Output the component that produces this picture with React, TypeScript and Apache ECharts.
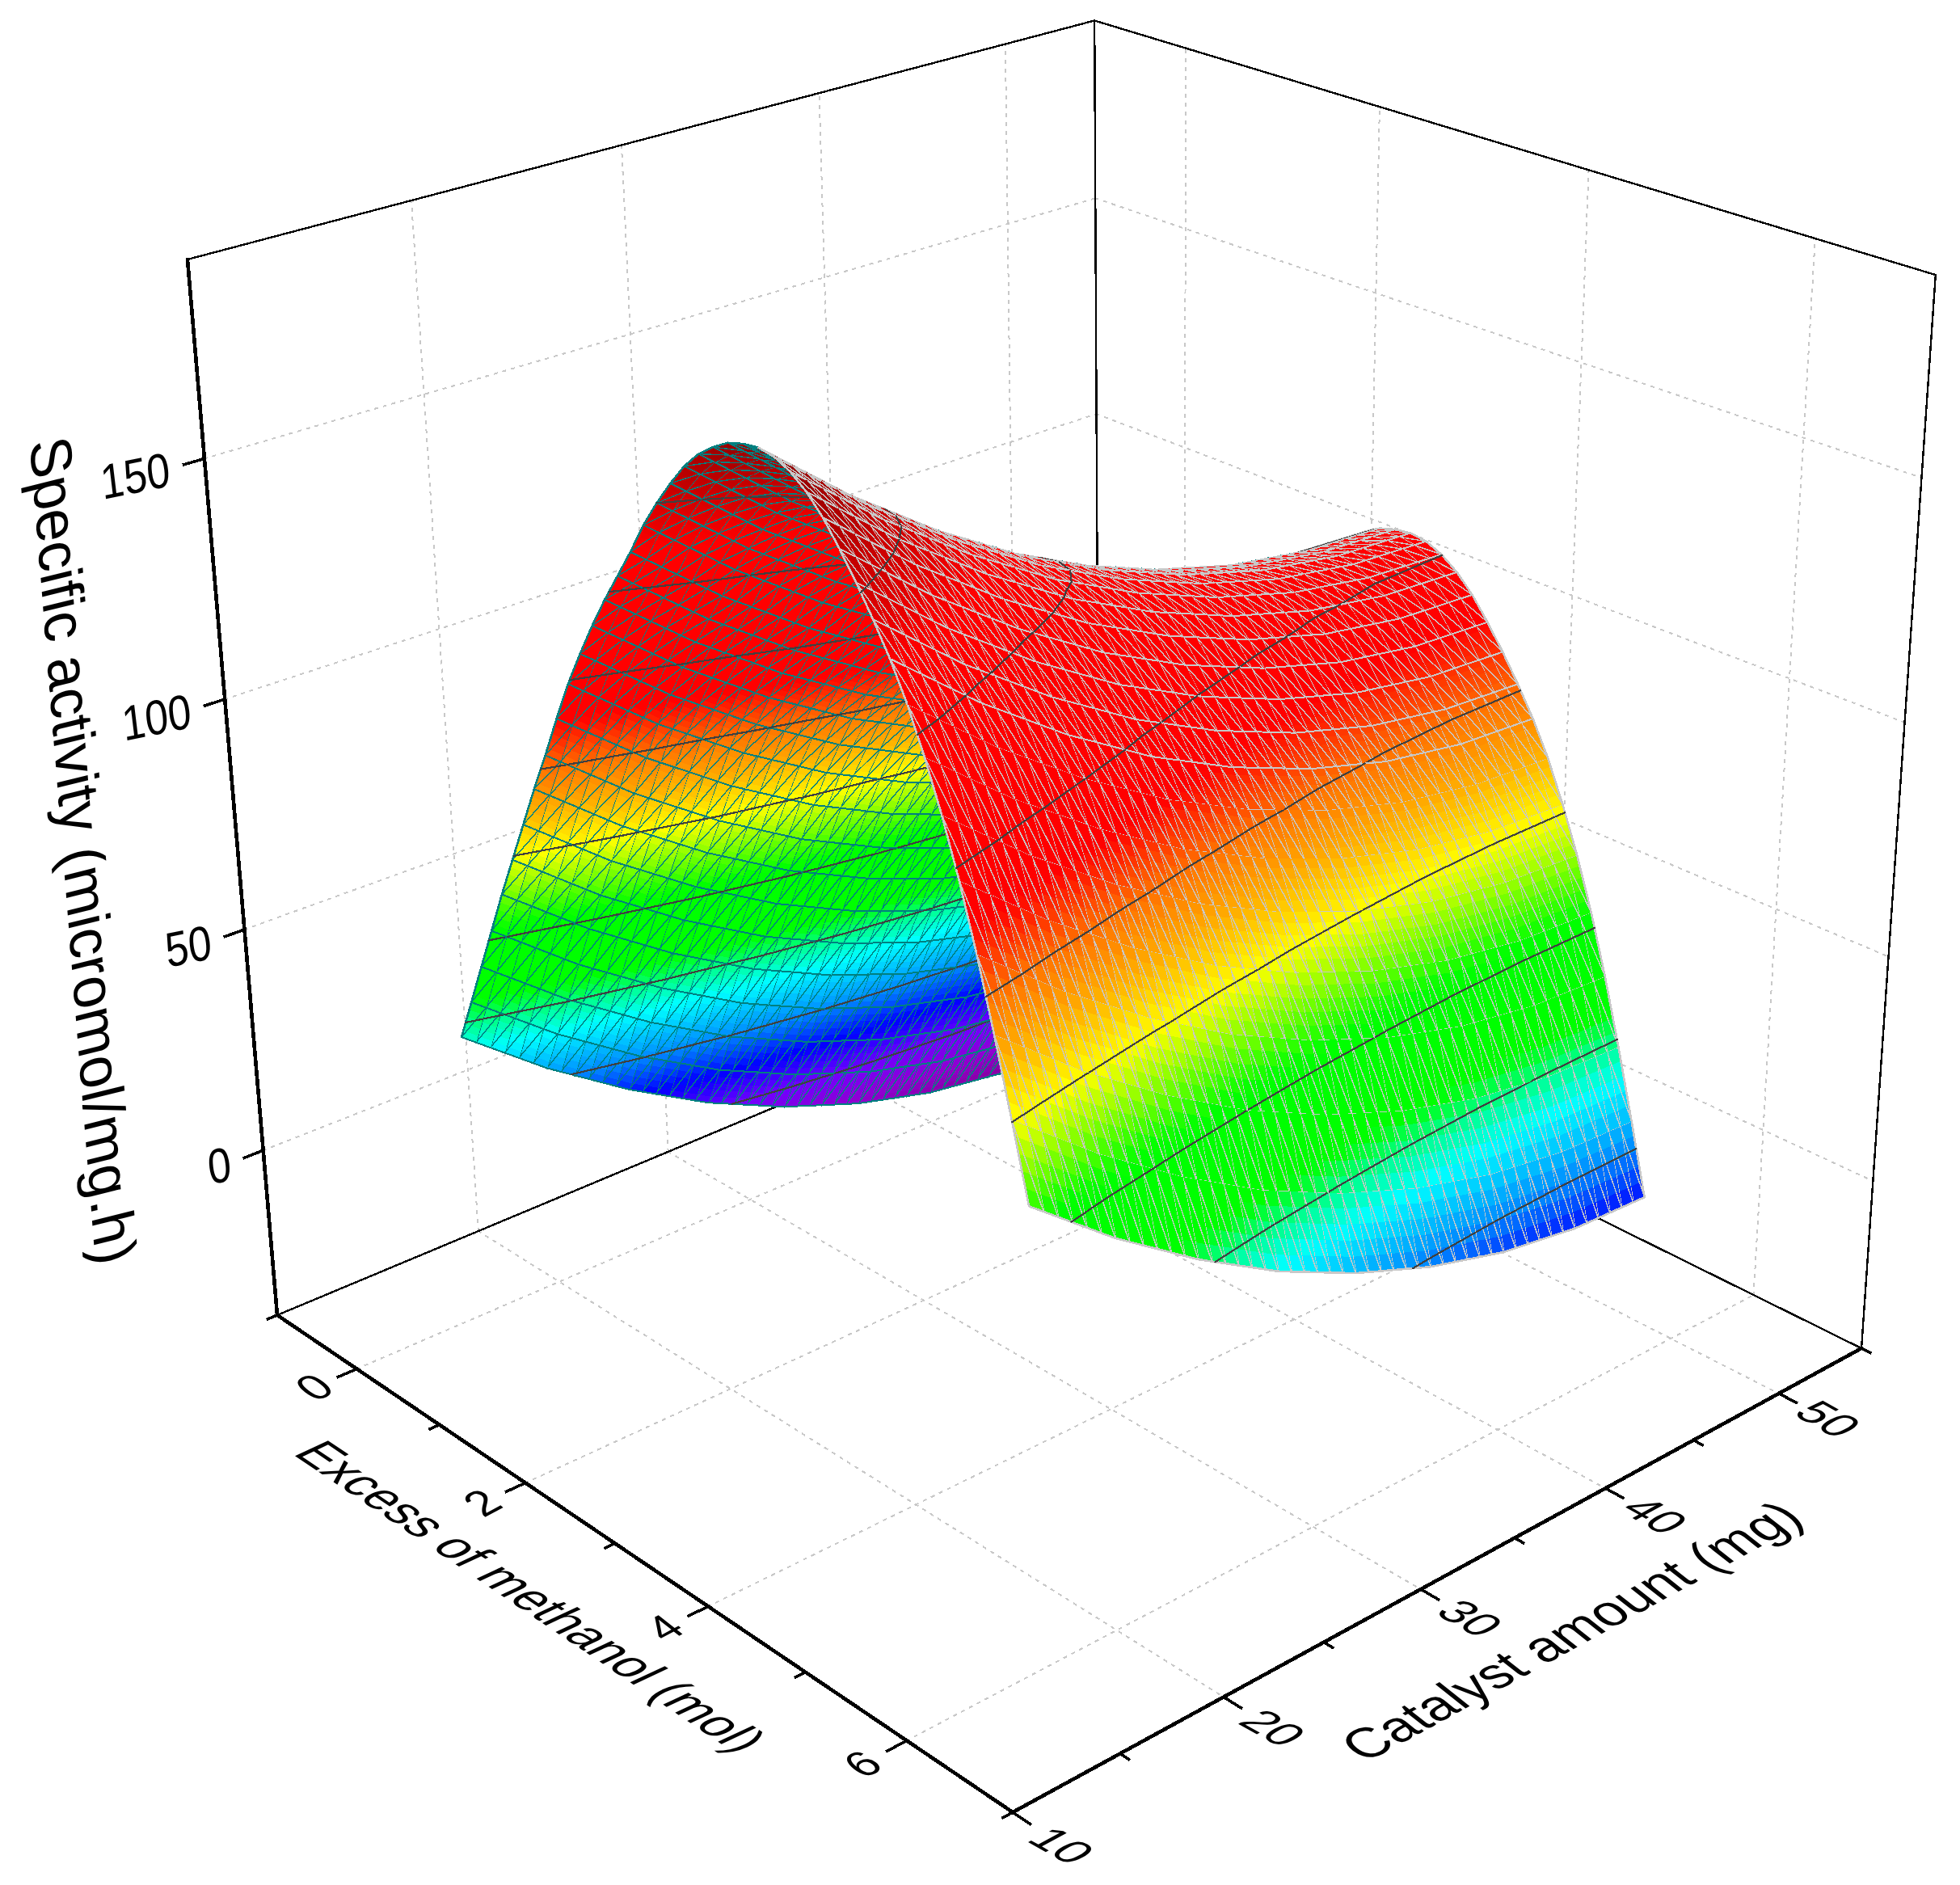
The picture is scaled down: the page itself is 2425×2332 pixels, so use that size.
import React, { useEffect, useRef } from "react";
import * as echarts from "echarts";

const WIDTH = 2425;
const HEIGHT = 2332;

// ---------- data ----------
const methanolValues = [0, 0.15, 0.3, 0.45, 0.6, 0.75, 0.9, 1.05, 1.2, 1.35, 1.5, 1.65, 1.8, 1.95, 2.1, 2.25, 2.4, 2.55, 2.7, 2.85, 3, 3.15, 3.3, 3.45, 3.6, 3.75, 3.9, 4.05, 4.2, 4.35, 4.5, 4.65, 4.8, 4.95, 5.1, 5.25, 5.4, 5.55, 5.7, 5.85, 6];
const catalystValues = [16, 20, 24, 28, 32, 36, 40, 44, 48];
// one row per methanol value, one column per catalyst value
const activityRows = [
  [26, 11.6, -0.8, -11.4, -19.9, -26.6, -31.4, -34.1, -34.9],
  [35.5, 21.1, 8.7, -1.9, -10.4, -17.1, -21.9, -24.6, -25.4],
  [45, 30.6, 18.2, 7.6, -0.9, -7.6, -12.4, -15.1, -15.9],
  [54.5, 40.1, 27.7, 17.1, 8.6, 1.9, -2.9, -5.6, -6.4],
  [64, 49.6, 37.2, 26.6, 18.1, 11.4, 6.6, 3.9, 3.1],
  [73, 58.6, 46.2, 35.6, 27.1, 20.4, 15.6, 12.9, 12.1],
  [82, 67.6, 55.2, 44.6, 36.1, 29.4, 24.6, 21.9, 21.1],
  [91, 76.6, 64.2, 53.6, 45.1, 38.4, 33.6, 30.9, 30.1],
  [99.5, 85.1, 72.7, 62.1, 53.6, 46.9, 42.1, 39.4, 38.6],
  [108.5, 94.1, 81.7, 71.1, 62.6, 55.9, 51.1, 48.4, 47.6],
  [117, 102.6, 90.2, 79.6, 71.1, 64.4, 59.6, 56.9, 56.1],
  [124.5, 110.1, 97.7, 87.1, 78.6, 71.9, 67.1, 64.4, 63.6],
  [131.5, 117.1, 104.7, 94.1, 85.6, 78.9, 74.1, 71.4, 70.6],
  [138, 123.6, 111.2, 100.6, 92.1, 85.4, 80.6, 77.9, 77.1],
  [144, 129.6, 117.2, 106.6, 98.1, 91.4, 86.6, 83.9, 83.1],
  [150, 135.6, 123.2, 112.6, 104.1, 97.4, 92.6, 89.9, 89.1],
  [156.5, 142.1, 129.7, 119.1, 110.6, 103.9, 99.1, 96.4, 95.6],
  [162, 147.6, 135.2, 124.6, 116.1, 109.4, 104.6, 101.9, 101.1],
  [167, 152.6, 140.2, 129.6, 121.1, 114.4, 109.6, 106.9, 106.1],
  [171.5, 157.1, 144.7, 134.1, 125.6, 118.9, 114.1, 111.4, 110.6],
  [175, 160.6, 148.2, 137.6, 129.1, 122.4, 117.6, 114.9, 114.1],
  [177.5, 163.1, 150.7, 140.1, 131.6, 124.9, 120.1, 117.4, 116.6],
  [179.5, 165.1, 152.7, 142.1, 133.6, 126.9, 122.1, 119.4, 118.6],
  [180.5, 166.1, 153.7, 143.1, 134.6, 127.9, 123.1, 120.4, 119.6],
  [181, 166.6, 154.2, 143.6, 135.1, 128.4, 123.6, 120.9, 120.1],
  [180.5, 166.1, 153.7, 143.1, 134.6, 127.9, 123.1, 120.4, 119.6],
  [179, 164.6, 152.2, 141.6, 133.1, 126.4, 121.6, 118.9, 118.1],
  [176.5, 162.1, 149.7, 139.1, 130.6, 123.9, 119.1, 116.4, 115.6],
  [173, 158.6, 146.2, 135.6, 127.1, 120.4, 115.6, 112.9, 112.1],
  [168.5, 154.1, 141.7, 131.1, 122.6, 115.9, 111.1, 108.4, 107.6],
  [163.5, 149.1, 136.7, 126.1, 117.6, 110.9, 106.1, 103.4, 102.6],
  [158, 143.6, 131.2, 120.6, 112.1, 105.4, 100.6, 97.9, 97.1],
  [152, 137.6, 125.2, 114.6, 106.1, 99.4, 94.6, 91.9, 91.1],
  [145, 130.6, 118.2, 107.6, 99.1, 92.4, 87.6, 84.9, 84.1],
  [136.5, 122.1, 109.7, 99.1, 90.6, 83.9, 79.1, 76.4, 75.6],
  [127, 112.6, 100.2, 89.6, 81.1, 74.4, 69.6, 66.9, 66.1],
  [116, 101.6, 89.2, 78.6, 70.1, 63.4, 58.6, 55.9, 55.1],
  [103.5, 89.1, 76.7, 66.1, 57.6, 50.9, 46.1, 43.4, 42.6],
  [89.5, 75.1, 62.7, 52.1, 43.6, 36.9, 32.1, 29.4, 28.6],
  [74.5, 60.1, 47.7, 37.1, 28.6, 21.9, 17.1, 14.4, 13.6],
  [59, 44.6, 32.2, 21.6, 13.1, 6.4, 1.6, -1.1, -1.9],
];
const contourLevels = [-14, 8, 30, 52, 74, 96, 118, 140, 162];

const methanolMajorTicks = [0, 2, 4, 6];
const methanolMinorTicks = [-1, 1, 3, 5, 7];
const catalystMajorTicks = [10, 20, 30, 40, 50];
const catalystMinorTicks = [15, 25, 35, 45, 55];
const activityTicks = [0, 50, 100, 150];

const methanolTitle = "Excess of methanol (mol)";
const catalystTitle = "Catalyst amount (mg)";
const activityTitle = "Specific activity (micromol/mg.h)";

const colorLevels = [-40, -25, -14, -3, 8, 22, 30, 36, 55, 74, 85, 96, 108, 150, 185];
const colorValues = ["#800080", "#9000d0", "#7000ff", "#0000ff", "#0088ff", "#00ffff", "#00ff80", "#00ff00", "#00ff00", "#ffff00", "#ffb000", "#ff7000", "#ff0000", "#ff0000", "#800000"];

// ---------- axis ranges and the camera of the 3D box ----------
const M_MIN = -1, M_MAX = 7, C_MIN = 10, C_MAX = 55, Z_MIN = -38.7, Z_MAX = 189.8;
const CAM = { x0: 343, y0: 1627, ax: 720.5, bx: 1198.5, cx: -132.6, ay: 275.9, by: -264.6, cy: -1335.9, g: -0.15126, h: 0.13343, i: -0.093 };

const uOf = (m: number) => (m - M_MIN) / (M_MAX - M_MIN);
const vOf = (c: number) => (c - C_MIN) / (C_MAX - C_MIN);
const wOf = (z: number) => (z - Z_MIN) / (Z_MAX - Z_MIN);

function project(u: number, v: number, w: number) {
  const d = 1 + CAM.g * u + CAM.h * v + CAM.i * w;
  return [
    (CAM.x0 + CAM.ax * u + CAM.bx * v + CAM.cx * w) / d,
    (CAM.y0 + CAM.ay * u + CAM.by * v + CAM.cy * w) / d,
    d,
  ];
}

function hexToRgb(h: string) {
  return [parseInt(h.slice(1, 3), 16), parseInt(h.slice(3, 5), 16), parseInt(h.slice(5, 7), 16)];
}
const colorRgb = colorValues.map(hexToRgb);
function colorOf(z: number) {
  if (z <= colorLevels[0]) return colorValues[0];
  for (let k = 1; k < colorLevels.length; k++) {
    if (z <= colorLevels[k]) {
      const t = (z - colorLevels[k - 1]) / (colorLevels[k] - colorLevels[k - 1]);
      const a = colorRgb[k - 1], b = colorRgb[k];
      return `rgb(${Math.round(a[0] + (b[0] - a[0]) * t)},${Math.round(a[1] + (b[1] - a[1]) * t)},${Math.round(a[2] + (b[2] - a[2]) * t)})`;
    }
  }
  return colorValues[colorValues.length - 1];
}

// ---------- mesh: each table row is a mesh row; each catalyst step holds 6 mesh columns ----------
const COL_SPLIT = 6;
const FILL_R = 5;
const rowCount = methanolValues.length - 1;
const colCount = (catalystValues.length - 1) * COL_SPLIT;

function surfacePoint(r: number, s: number) {
  const ri = Math.min(Math.floor(r), rowCount - 1);
  const rt = r - ri;
  const cf = s / COL_SPLIT;
  const ci = Math.min(Math.floor(cf), catalystValues.length - 2);
  const ct = cf - ci;
  const z =
    activityRows[ri][ci] * (1 - rt) * (1 - ct) +
    activityRows[ri + 1][ci] * rt * (1 - ct) +
    activityRows[ri][ci + 1] * (1 - rt) * ct +
    activityRows[ri + 1][ci + 1] * rt * ct;
  const m = methanolValues[ri] + (methanolValues[ri + 1] - methanolValues[ri]) * rt;
  const c = catalystValues[ci] + (catalystValues[ci + 1] - catalystValues[ci]) * ct;
  return [uOf(m), vOf(c), wOf(z), z];
}
function surfaceProj(r: number, s: number) {
  const p = surfacePoint(r, s);
  const q = project(p[0], p[1], p[2]);
  return [q[0], q[1], q[2], p[3]];
}

const FONT = "Liberation Sans, Arial, sans-serif";

function textEl(text: string, x: number, y: number, size: number, B: number[], D: number[], align = "center") {
  const rotation = Math.atan2(-B[1], B[0]);
  const ct = Math.cos(rotation), st = Math.sin(rotation);
  const dx = ct * D[0] - st * D[1];
  const dy = st * D[0] + ct * D[1];
  return {
    type: "text",
    x,
    y,
    rotation,
    scaleX: Math.hypot(B[0], B[1]),
    scaleY: dy,
    skewX: Math.atan(dx / dy),
    silent: true,
    style: { text, x: 0, y: 0, align, verticalAlign: "middle", fill: "#000", font: `${size}px ${FONT}` },
  };
}

type Seg = { a: number[]; b: number[]; color: string; width: number; dash?: number[] };

function buildGridSegs(): Seg[] {
  const out: Seg[] = [];
  const style = { color: "#c8c8c8", width: 2, dash: [3, 8] };
  for (const m of methanolMajorTicks) {
    const u = uOf(m);
    out.push({ a: [u, 0, 0], b: [u, 1, 0], ...style });
    out.push({ a: [u, 1, 0], b: [u, 1, 1], ...style });
  }
  for (const c of catalystMajorTicks) {
    const v = vOf(c);
    out.push({ a: [0, v, 0], b: [1, v, 0], ...style });
    out.push({ a: [0, v, 0], b: [0, v, 1], ...style });
  }
  for (const z of activityTicks) {
    const w = wOf(z);
    out.push({ a: [0, 0, w], b: [0, 1, w], ...style });
    out.push({ a: [0, 1, w], b: [1, 1, w], ...style });
  }
  return out;
}

function buildBackBox(): Seg[] {
  const s = { color: "#000", width: 2.4 };
  return [
    { a: [0, 0, 0], b: [0, 1, 0], ...s },
    { a: [1, 1, 0], b: [0, 1, 0], ...s },
    { a: [0, 1, 0], b: [0, 1, 1], ...s },
    { a: [0, 0, 1], b: [0, 1, 1], ...s },
    { a: [0, 1, 1], b: [1, 1, 1], ...s },
    { a: [1, 1, 0], b: [1, 1, 1], ...s },
  ];
}

function buildFrontAxes(): Seg[] {
  const s = { color: "#000", width: 4.6 };
  const t = { color: "#000", width: 3.6 };
  const out: Seg[] = [
    { a: [0, 0, 0], b: [0, 0, 1], ...s },
    { a: [0, 0, 0], b: [1, 0, 0], ...s },
    { a: [1, 0, 0], b: [1, 1, 0], ...s },
  ];
  for (const m of methanolMajorTicks) out.push({ a: [uOf(m), 0, 0], b: [uOf(m), -0.02, 0], ...t });
  for (const m of methanolMinorTicks) out.push({ a: [uOf(m), 0, 0], b: [uOf(m), -0.01, 0], ...t });
  for (const c of catalystMajorTicks) out.push({ a: [1, vOf(c), 0], b: [1.02, vOf(c), 0], ...t });
  for (const c of catalystMinorTicks) out.push({ a: [1, vOf(c), 0], b: [1.01, vOf(c), 0], ...t });
  for (const z of activityTicks) out.push({ a: [0, 0, wOf(z)], b: [0, -0.02, wOf(z)], ...t });
  return out;
}

function segSeries(segs: Seg[], z: number) {
  return {
    type: "custom",
    coordinateSystem: "cartesian2d",
    silent: true,
    z,
    clip: false,
    progressive: 0,
    data: segs.map((_, i) => [i, 0]),
    renderItem: (params: any, api: any) => {
      const s = segs[api.value(0)];
      const pa = project(s.a[0], s.a[1], s.a[2]);
      const pb = project(s.b[0], s.b[1], s.b[2]);
      const A = api.coord([pa[0], pa[1]]);
      const B = api.coord([pb[0], pb[1]]);
      return {
        type: "line",
        silent: true,
        shape: { x1: A[0], y1: A[1], x2: B[0], y2: B[1] },
        style: { stroke: s.color, lineWidth: s.width, lineDash: s.dash, lineCap: "square" },
      };
    },
  };
}

function buildLabels() {
  const out: any[] = [];
  const onFloorM = { B: [0.9, -0.48], D: [0.8, 0.63] };
  const onFloorC = { B: [0.87, 0.49], D: [-0.86, 0.47] };
  for (const m of methanolMajorTicks) {
    const p = project(uOf(m), -0.045, 0);
    out.push({ t: String(m), p, size: 54, ...onFloorM });
  }
  for (const c of catalystMajorTicks) {
    const p = project(1.056, vOf(c), 0);
    out.push({ t: String(c), p, size: 58, ...onFloorC });
  }
  for (const z of activityTicks) {
    const p = project(0, -0.034, wOf(z));
    out.push({ t: String(z), p, size: 52, B: [0.98, -0.2], D: [0.14, 1.15], align: "right" });
  }
  out.push({ t: methanolTitle, p: [657, 1975], size: 66, B: [0.74, 0.5], D: [-0.9, 0.42] });
  out.push({ t: catalystTitle, p: [1944, 2018], size: 68, B: [0.84, -0.46], D: [0.76, 0.6] });
  out.push({ t: activityTitle, p: [103, 1052], size: 74, B: [0.077, 0.962], D: [-0.97, 0.24] });
  return out;
}

function surfaceSeries() {
  const cells: number[][] = [];
  for (let r = 0; r < rowCount; r++) {
    for (let s = 0; s < colCount; s++) {
      const q = surfaceProj(r + 0.5, s + 0.5);
      cells.push([r, s, q[2]]);
    }
  }
  cells.sort((p, q) => q[2] - p[2]);
  return {
    type: "custom",
    coordinateSystem: "cartesian2d",
    silent: true,
    z: 5,
    clip: false,
    progressive: 0,
    data: cells,
    renderItem: (params: any, api: any) => {
      const r = api.value(0);
      const s = api.value(1);
      const px = (a: number, b: number) => {
        const q = surfaceProj(a, b);
        const c = api.coord([q[0], q[1]]);
        return [c[0], c[1], q[3]];
      };
      const children: any[] = [];
      for (let a = 0; a < FILL_R; a++) {
        const r0 = r + a / FILL_R, r1 = r + (a + 1) / FILL_R;
        const p00 = px(r0, s), p10 = px(r1, s), p11 = px(r1, s + 1), p01 = px(r0, s + 1);
        const col = colorOf((p00[2] + p10[2] + p11[2] + p01[2]) / 4);
        children.push({
          type: "polygon",
          silent: true,
          shape: { points: [p00.slice(0, 2), p10.slice(0, 2), p11.slice(0, 2), p01.slice(0, 2)] },
          style: { fill: col, stroke: col, lineWidth: 1 },
        });
      }
      const A = px(r, s), Bp = px(r + 1, s), C = px(r, s + 1), Dp = px(r + 1, s + 1);
      const cross = (Bp[0] - A[0]) * (C[1] - A[1]) - (Bp[1] - A[1]) * (C[0] - A[0]);
      const front = cross < 0;
      const mesh = front ? "#c8c8c8" : "#008080";
      const line = (p: number[], q: number[], w: number, color = mesh) =>
        children.push({ type: "line", silent: true, shape: { x1: p[0], y1: p[1], x2: q[0], y2: q[1] }, style: { stroke: color, lineWidth: w, lineCap: "round" } });
      line(A, Dp, 1.4);
      line(A, C, 2);
      line(A, Bp, 2.6);
      if (r === rowCount - 1) line(Bp, Dp, 2.6);
      if (s === colCount - 1) line(C, Dp, 2.6);
      // contours through the two triangles of the cell, above the mesh
      for (const tri of [[A, Bp, Dp], [A, Dp, C]]) {
        for (const lv of contourLevels) {
          const pts: number[][] = [];
          for (let k = 0; k < 3; k++) {
            const p = tri[k], q = tri[(k + 1) % 3];
            if ((p[2] < lv) !== (q[2] < lv)) {
              const t = (lv - p[2]) / (q[2] - p[2]);
              pts.push([p[0] + (q[0] - p[0]) * t, p[1] + (q[1] - p[1]) * t]);
            }
          }
          if (pts.length === 2) line(pts[0], pts[1], 2.2, "#404040");
        }
      }
      return { type: "group", silent: true, children };
    },
  };
}

export default function App() {
  const ref = useRef<HTMLDivElement>(null);
  useEffect(() => {
    document.body.style.margin = "0";
    const chart = echarts.init(ref.current!, undefined, { renderer: "svg" });
    const labels = buildLabels();
    chart.setOption({
      animation: false,
      backgroundColor: "#fff",
      grid: { left: 0, right: 0, top: 0, bottom: 0 },
      xAxis: { type: "value", min: 0, max: WIDTH, show: false },
      yAxis: { type: "value", min: 0, max: HEIGHT, inverse: true, show: false },
      tooltip: { show: false },
      series: [
        segSeries(buildGridSegs(), 1),
        segSeries(buildBackBox(), 2),
        surfaceSeries(),
        segSeries(buildFrontAxes(), 8),
        {
          type: "custom",
          coordinateSystem: "cartesian2d",
          silent: true,
          z: 9,
          clip: false,
          data: labels.map((_, i) => [i, 0]),
          renderItem: (params: any, api: any) => {
            const l = labels[api.value(0)];
            const c = api.coord([l.p[0], l.p[1]]);
            return textEl(l.t, c[0], c[1], l.size, l.B, l.D, l.align);
          },
        },
      ],
    });
    // the reference was rasterised without anti-aliasing
    const svg = ref.current!.querySelector("svg");
    if (svg) svg.setAttribute("shape-rendering", "crispEdges");
    return () => chart.dispose();
  }, []);
  return <div ref={ref} style={{ width: WIDTH, height: HEIGHT }} />;
}
